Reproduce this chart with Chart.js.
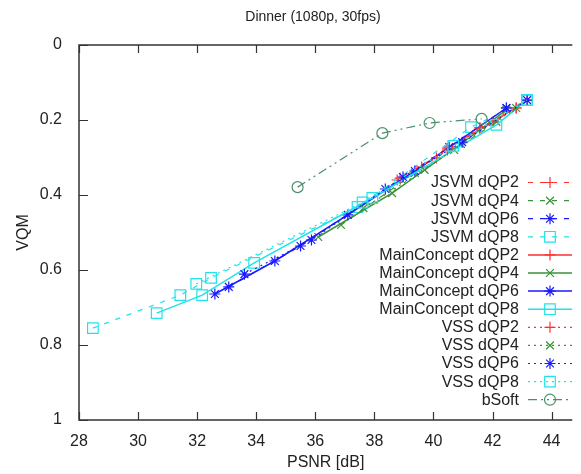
<!DOCTYPE html>
<html>
<head>
<meta charset="utf-8">
<script src="https://cdn.jsdelivr.net/npm/chart.js@4"></script>
<style>
  body { margin: 0; background: #fff; overflow: hidden; }
</style>
</head>
<body>
<canvas id="vqm" width="581" height="474"></canvas>
<script>
// PSNR [dB] / VQM readings per encoder and dQP
const jsvm2Psnr = [38.77, 40.10, 41.57, 42.80];
const jsvm2Vqm  = [0.360, 0.301, 0.221, 0.168];
const jsvm4Psnr = [36.87, 39.37, 40.70, 42.13];
const jsvm4Vqm  = [0.480, 0.341, 0.280, 0.205];
const jsvm6Psnr = [33.07, 35.50, 38.37, 40.53, 42.47];
const jsvm6Vqm  = [0.645, 0.536, 0.384, 0.272, 0.168];
const jsvm8Psnr = [28.47, 31.43, 32.47, 37.43, 41.27, 43.17];
const jsvm8Vqm  = [0.755, 0.667, 0.621, 0.432, 0.219, 0.147];

const mc2Psnr = [39.60, 40.47, 42.03, 43.17];
const mc2Vqm  = [0.325, 0.275, 0.205, 0.147];
const mc4Psnr = [36.10, 38.60, 40.93, 42.47];
const mc4Vqm  = [0.512, 0.395, 0.264, 0.173];
const mc6Psnr = [32.60, 34.63, 37.10, 39.37, 42.47];
const mc6Vqm  = [0.664, 0.576, 0.453, 0.336, 0.168];
const mc8Psnr = [30.63, 32.17, 33.93, 37.93, 42.13, 43.17];
const mc8Vqm  = [0.715, 0.667, 0.581, 0.408, 0.213, 0.147];

const vss2Psnr = [38.87, 40.47, 41.57, 42.80];
const vss2Vqm  = [0.355, 0.280, 0.221, 0.168];
const vss4Psnr = [37.63, 39.70, 40.93, 42.80];
const vss4Vqm  = [0.435, 0.333, 0.264, 0.168];
const vss6Psnr = [33.60, 35.87, 38.97, 40.97, 43.17];
const vss6Vqm  = [0.611, 0.520, 0.352, 0.259, 0.147];
const vss8Psnr = [31.97, 37.60, 40.67, 43.17];
const vss8Vqm  = [0.637, 0.420, 0.269, 0.147];

const bsoftPsnr = [35.40, 38.27, 39.87, 41.63];
const bsoftVqm  = [0.379, 0.235, 0.208, 0.197];

const xTicks = [28, 30, 32, 34, 36, 38, 40, 42, 44];
const yTicks = [0, 0.2, 0.4, 0.6, 0.8, 1];

const FONT = "'Liberation Sans', Arial, sans-serif";
const TXT = '#222';

const RED = '#ff3030', GREEN = '#3a923a', BLUE = '#1a1aff', CYAN = '#22e2ea', BSOFT = '#4a8f6c';
const DASH = [5, 7], DOT = [2, 4], SOLID = [], DASHDOT = [9, 4, 2, 4, 2, 4];

function pts(xs, ys) { return xs.map((x, i) => ({ x: x, y: ys[i] })); }

function series(label, xs, ys, color, dash, style, r) {
  return {
    label: label,
    data: pts(xs, ys),
    borderColor: color,
    backgroundColor: 'rgba(0,0,0,0)',
    borderWidth: dash.length ? 1.2 : 1.5,
    borderDash: dash,
    pointStyle: style,
    pointRadius: r,
    pointBorderColor: color,
    pointBackgroundColor: 'rgba(0,0,0,0)',
    pointBorderWidth: 1.2,
    showLine: true,
    tension: 0
  };
}

const datasets = [
  series('JSVM dQP2', jsvm2Psnr, jsvm2Vqm, RED, DASH, 'cross', 5.5),
  series('JSVM dQP4', jsvm4Psnr, jsvm4Vqm, GREEN, DASH, 'crossRot', 5.5),
  series('JSVM dQP6', jsvm6Psnr, jsvm6Vqm, BLUE, DASH, 'star', 5.5),
  series('JSVM dQP8', jsvm8Psnr, jsvm8Vqm, CYAN, DASH, 'rect', 7.5),
  series('MainConcept dQP2', mc2Psnr, mc2Vqm, RED, SOLID, 'cross', 5.5),
  series('MainConcept dQP4', mc4Psnr, mc4Vqm, GREEN, SOLID, 'crossRot', 5.5),
  series('MainConcept dQP6', mc6Psnr, mc6Vqm, BLUE, SOLID, 'star', 5.5),
  series('MainConcept dQP8', mc8Psnr, mc8Vqm, CYAN, SOLID, 'rect', 7.5),
  series('VSS dQP2', vss2Psnr, vss2Vqm, RED, DOT, 'cross', 5.5),
  series('VSS dQP4', vss4Psnr, vss4Vqm, GREEN, DOT, 'crossRot', 5.5),
  series('VSS dQP6', vss6Psnr, vss6Vqm, BLUE, DOT, 'star', 5.5),
  series('VSS dQP8', vss8Psnr, vss8Vqm, CYAN, DOT, 'rect', 7.5),
  series('bSoft', bsoftPsnr, bsoftVqm, BSOFT, DASHDOT, 'circle', 5.5)
];
// later series on top, like gnuplot
datasets.forEach((d, i) => { d.order = datasets.length - i; });

// gnuplot-like border and inward ticks
const gnuAxes = {
  id: 'gnuAxes',
  afterDraw(chart) {
    const { ctx, chartArea: a } = chart;
    const sx = chart.scales.x, sy = chart.scales.y;
    ctx.save();
    ctx.strokeStyle = '#333';
    ctx.lineWidth = 1.5;
    ctx.setLineDash([]);
    ctx.beginPath();
    ctx.moveTo(a.right, a.top);
    ctx.lineTo(a.left, a.top);
    ctx.lineTo(a.left, a.bottom);
    ctx.lineTo(a.right, a.bottom);
    ctx.stroke();
    ctx.lineWidth = 1.2;
    ctx.beginPath();
    xTicks.forEach(v => {
      const px = Math.round(sx.getPixelForValue(v)) + 0.5;
      ctx.moveTo(px, a.bottom); ctx.lineTo(px, a.bottom - 8);
      ctx.moveTo(px, a.top); ctx.lineTo(px, a.top + 8);
    });
    yTicks.forEach(v => {
      const py = Math.round(sy.getPixelForValue(v)) + 0.5;
      ctx.moveTo(a.left, py); ctx.lineTo(a.left + 9, py);
    });
    ctx.stroke();
    ctx.restore();
  }
};

// title and key, drawn as text on the canvas
const gnuKey = {
  id: 'gnuKey',
  afterDraw(chart) {
    const ctx = chart.ctx;
    ctx.save();
    ctx.fillStyle = TXT;
    ctx.font = '14px ' + FONT;
    ctx.textAlign = 'center';
    ctx.textBaseline = 'middle';
    ctx.fillText('Dinner (1080p, 30fps)', 313, 17);

    ctx.font = '16px ' + FONT;
    ctx.textAlign = 'right';
    chart.data.datasets.forEach((d, i) => {
      const y = 182 + i * 18.1;
      ctx.fillStyle = TXT;
      ctx.fillText(d.label, 519, y + 1);
      ctx.strokeStyle = d.borderColor;
      ctx.lineWidth = d.borderWidth;
      ctx.setLineDash(d.borderDash);
      ctx.beginPath();
      ctx.moveTo(528, y + 0.5);
      ctx.lineTo(572, y + 0.5);
      ctx.stroke();
      ctx.setLineDash([]);
      ctx.lineWidth = d.pointBorderWidth;
      ctx.fillStyle = 'rgba(0,0,0,0)';
      Chart.helpers.drawPoint(ctx, { pointStyle: d.pointStyle, radius: d.pointRadius, rotation: 0, borderWidth: d.pointBorderWidth }, 550, y + 0.5);
    });
    ctx.restore();
  }
};

new Chart(document.getElementById('vqm'), {
  type: 'scatter',
  data: { datasets: datasets },
  options: {
    responsive: false,
    animation: false,
    devicePixelRatio: 1,
    layout: { padding: { top: 45, left: 0, right: 0, bottom: 0 } },
    plugins: {
      legend: { display: false },
      tooltip: { enabled: false },
      title: { display: false }
    },
    scales: {
      x: {
        type: 'linear',
        min: 28,
        max: 44.7,
        afterBuildTicks: s => { s.ticks = xTicks.map(v => ({ value: v })); },
        afterFit: s => { s.height = 54; },
        grid: { display: false },
        border: { display: false },
        ticks: { color: TXT, padding: 4, font: { family: FONT, size: 16 }, callback: v => String(v) },
        title: { display: true, text: 'PSNR [dB]', color: TXT, font: { family: FONT, size: 16 }, padding: { top: 0, bottom: 1.5 } }
      },
      y: {
        type: 'linear',
        reverse: true,
        min: 0,
        max: 1,
        afterBuildTicks: s => { s.ticks = yTicks.map(v => ({ value: v })); },
        afterFit: s => { s.width = 79; },
        grid: { display: false },
        border: { display: false },
        ticks: { color: TXT, padding: 9, font: { family: FONT, size: 16 }, callback: v => String(v) },
        title: { display: true, text: 'VQM', color: TXT, font: { family: FONT, size: 16 }, padding: { top: 14, bottom: 0 } }
      }
    }
  },
  plugins: [gnuAxes, gnuKey]
});
</script>
</body>
</html>
